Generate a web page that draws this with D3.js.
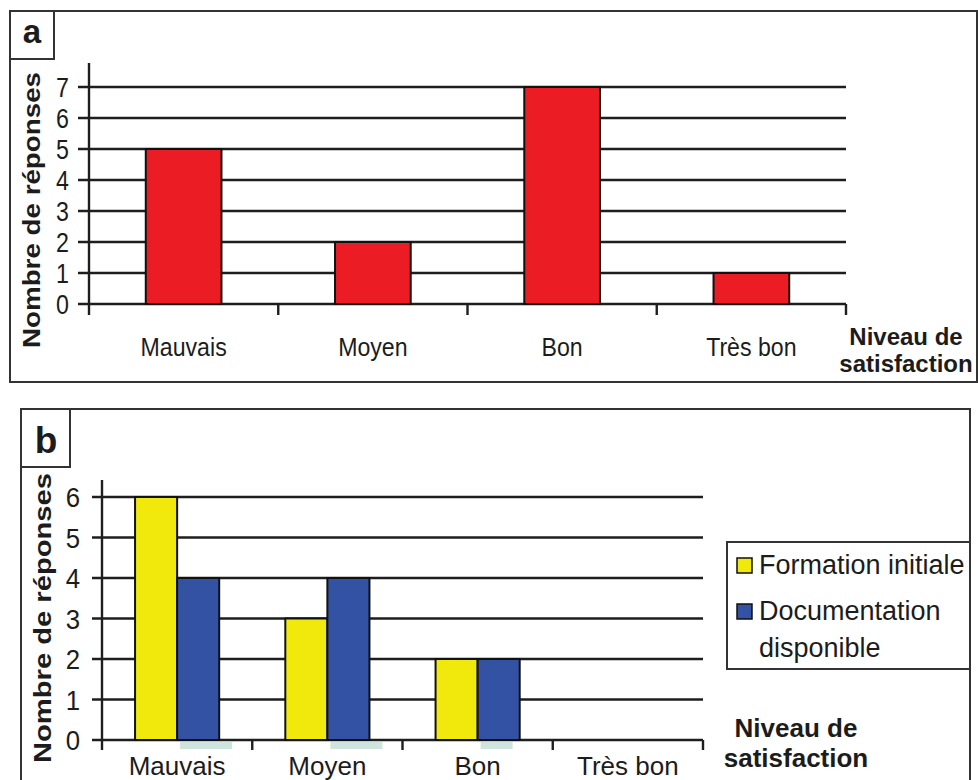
<!DOCTYPE html>
<html>
<head>
<meta charset="utf-8">
<script src="https://cdn.jsdelivr.net/npm/d3@7"></script>
<style>
  html, body { margin: 0; padding: 0; background: #fff; }
  svg { display: block; }
  text { font-family: "Liberation Sans", Arial, sans-serif; fill: #1c1c1c; }
</style>
</head>
<body>
<svg id="chart" width="978" height="780"></svg>
<script>
// ---- data ----
const categories = ["Mauvais", "Moyen", "Bon", "Très bon"];
const valuesA = [5, 2, 7, 1];
const seriesB = ["Formation initiale", "Documentation disponible"];
const formationInitiale = [6, 3, 2, 0];
const documentationDisponible = [4, 4, 2, 0];
const ticksA = [0, 1, 2, 3, 4, 5, 6, 7];
const ticksB = [0, 1, 2, 3, 4, 5, 6];
const yTitle = "Nombre de réponses";
const xTitle = ["Niveau de", "satisfaction"];
const legendLines = [["Formation initiale"], ["Documentation", "disponible"]];

const colorA = "#ec1c24";
const colorsB = ["#f1e90c", "#3452a4"];
const lineCol = "#1e1e1e";

const svg = d3.select("#chart");

function condense(sel, factor) {
  sel.each(function () {
    const w = this.getComputedTextLength();
    d3.select(this).attr("textLength", w * factor).attr("lengthAdjust", "spacingAndGlyphs");
  });
}

// ================= Panel a =================
const gA = svg.append("g");
gA.append("rect").attr("x", 10).attr("y", 11).attr("width", 967).attr("height", 371)
  .attr("fill", "none").attr("stroke", "#333").attr("stroke-width", 2);
gA.append("rect").attr("x", 10).attr("y", 11).attr("width", 44).attr("height", 48)
  .attr("fill", "none").attr("stroke", "#333").attr("stroke-width", 2);
gA.append("text").attr("x", 32).attr("y", 43).attr("text-anchor", "middle")
  .attr("font-size", 33).attr("font-weight", "bold").text("a");

const xA = d3.scaleBand().domain(categories).range([89, 846]).padding(0);
const yA = d3.scaleLinear().domain([0, 7]).range([304, 87]);

// gridlines
gA.append("g").selectAll("line").data(ticksA).join("line")
  .attr("x1", 78).attr("x2", 846)
  .attr("y1", d => yA(d)).attr("y2", d => yA(d))
  .attr("stroke", lineCol).attr("stroke-width", 2.4);
// y axis line
gA.append("line").attr("x1", 89).attr("x2", 89).attr("y1", 63).attr("y2", 315)
  .attr("stroke", lineCol).attr("stroke-width", 2.4);
// category ticks
gA.append("g").selectAll("line").data(categories).join("line")
  .attr("x1", d => xA(d) + xA.step()).attr("x2", d => xA(d) + xA.step())
  .attr("y1", yA(0)).attr("y2", 315)
  .attr("stroke", lineCol).attr("stroke-width", 2.4);
// y tick labels
gA.append("g").selectAll("text").data(ticksA).join("text")
  .attr("x", 69).attr("y", d => yA(d)).attr("dy", "0.36em")
  .attr("text-anchor", "end").attr("font-size", 27).text(d => d)
  .call(condense, 0.86);
// bars
gA.append("g").selectAll("rect").data(categories).join("rect")
  .attr("x", d => xA(d) + xA.bandwidth() * 0.3)
  .attr("width", xA.bandwidth() * 0.4)
  .attr("y", (d, i) => yA(valuesA[i]))
  .attr("height", (d, i) => yA(0) - yA(valuesA[i]))
  .attr("fill", colorA).attr("stroke", "#111").attr("stroke-width", 2);
// x labels
gA.append("g").selectAll("text").data(categories).join("text")
  .attr("x", d => xA(d) + xA.bandwidth() / 2).attr("y", 356)
  .attr("text-anchor", "middle").attr("font-size", 26).text(d => d)
  .call(condense, 0.89);
// y title
gA.append("text").attr("transform", "translate(40,210) rotate(-90)")
  .attr("text-anchor", "middle").attr("font-size", 24).attr("font-weight", "bold")
  .attr("textLength", 276).attr("lengthAdjust", "spacingAndGlyphs").text(yTitle);
// x title
gA.append("g").selectAll("text").data(xTitle).join("text")
  .attr("x", 906).attr("y", (d, i) => 345 + i * 27)
  .attr("text-anchor", "middle").attr("font-size", 24).attr("font-weight", "bold").text(d => d);

// ================= Panel b =================
const gB = svg.append("g");
gB.append("rect").attr("x", 21).attr("y", 409).attr("width", 949).attr("height", 400)
  .attr("fill", "none").attr("stroke", "#333").attr("stroke-width", 2);
gB.append("rect").attr("x", 21).attr("y", 409).attr("width", 49).attr("height", 58)
  .attr("fill", "none").attr("stroke", "#333").attr("stroke-width", 2);
gB.append("text").attr("x", 46).attr("y", 453).attr("text-anchor", "middle")
  .attr("font-size", 37).attr("font-weight", "bold").text("b");

const xB = d3.scaleBand().domain(categories).range([102, 703]).padding(0);
const xInner = d3.scaleBand().domain(seriesB).range([0, xB.bandwidth() * 0.56]);
const yB = d3.scaleLinear().domain([0, 6]).range([740, 497]);
const groupOffset = (xB.bandwidth() - xInner.range()[1]) / 2;

// faint artefact under blue bars
gB.append("g").selectAll("rect").data(categories.slice(0, 3)).join("rect")
  .attr("x", d => xB(d) + groupOffset + xInner(seriesB[1]) + 3)
  .attr("width", (d, i) => i < 2 ? 52 : 32)
  .attr("y", 742).attr("height", 7).attr("fill", "#cfe4dd");

gB.append("g").selectAll("line").data(ticksB).join("line")
  .attr("x1", 92).attr("x2", 703)
  .attr("y1", d => yB(d)).attr("y2", d => yB(d))
  .attr("stroke", lineCol).attr("stroke-width", 2.4);
gB.append("line").attr("x1", 102).attr("x2", 102).attr("y1", 480).attr("y2", 750)
  .attr("stroke", lineCol).attr("stroke-width", 2.4);
gB.append("g").selectAll("line").data(categories).join("line")
  .attr("x1", d => xB(d) + xB.step()).attr("x2", d => xB(d) + xB.step())
  .attr("y1", yB(0)).attr("y2", 750)
  .attr("stroke", lineCol).attr("stroke-width", 2.4);
gB.append("g").selectAll("text").data(ticksB).join("text")
  .attr("x", 80).attr("y", d => yB(d)).attr("dy", "0.36em")
  .attr("text-anchor", "end").attr("font-size", 28).text(d => d)
  .call(condense, 0.92);

const seriesVals = [formationInitiale, documentationDisponible];
seriesB.forEach((s, si) => {
  gB.append("g").selectAll("rect").data(categories).join("rect")
    .attr("x", d => xB(d) + groupOffset + xInner(s))
    .attr("width", xInner.bandwidth())
    .attr("y", (d, i) => yB(seriesVals[si][i]))
    .attr("height", (d, i) => yB(0) - yB(seriesVals[si][i]))
    .attr("fill", colorsB[si])
    .attr("stroke", "#111").attr("stroke-width", (d, i) => seriesVals[si][i] > 0 ? 2 : 0);
});

gB.append("g").selectAll("text").data(categories).join("text")
  .attr("x", d => xB(d) + xB.bandwidth() / 2).attr("y", 775)
  .attr("text-anchor", "middle").attr("font-size", 26).text(d => d);

gB.append("text").attr("transform", "translate(51,618) rotate(-90)")
  .attr("text-anchor", "middle").attr("font-size", 24).attr("font-weight", "bold")
  .attr("textLength", 290).attr("lengthAdjust", "spacingAndGlyphs").text(yTitle);

gB.append("g").selectAll("text").data(xTitle).join("text")
  .attr("x", 796).attr("y", (d, i) => 737 + i * 30)
  .attr("text-anchor", "middle").attr("font-size", 26).attr("font-weight", "bold").text(d => d);

// legend
const lg = gB.append("g");
lg.append("rect").attr("x", 727).attr("y", 542).attr("width", 243).attr("height", 127)
  .attr("fill", "#fff").attr("stroke", "#333").attr("stroke-width", 2);
const legendY = [574, 620];
seriesB.forEach((s, si) => {
  lg.append("rect").attr("x", 737).attr("y", legendY[si] - 16).attr("width", 15).attr("height", 15)
    .attr("fill", colorsB[si]).attr("stroke", "#111").attr("stroke-width", 1.5);
  lg.append("g").selectAll("text").data(legendLines[si]).join("text")
    .attr("x", 759).attr("y", (d, i) => legendY[si] + i * 37)
    .attr("font-size", 27).text(d => d);
});
</script>
</body>
</html>
